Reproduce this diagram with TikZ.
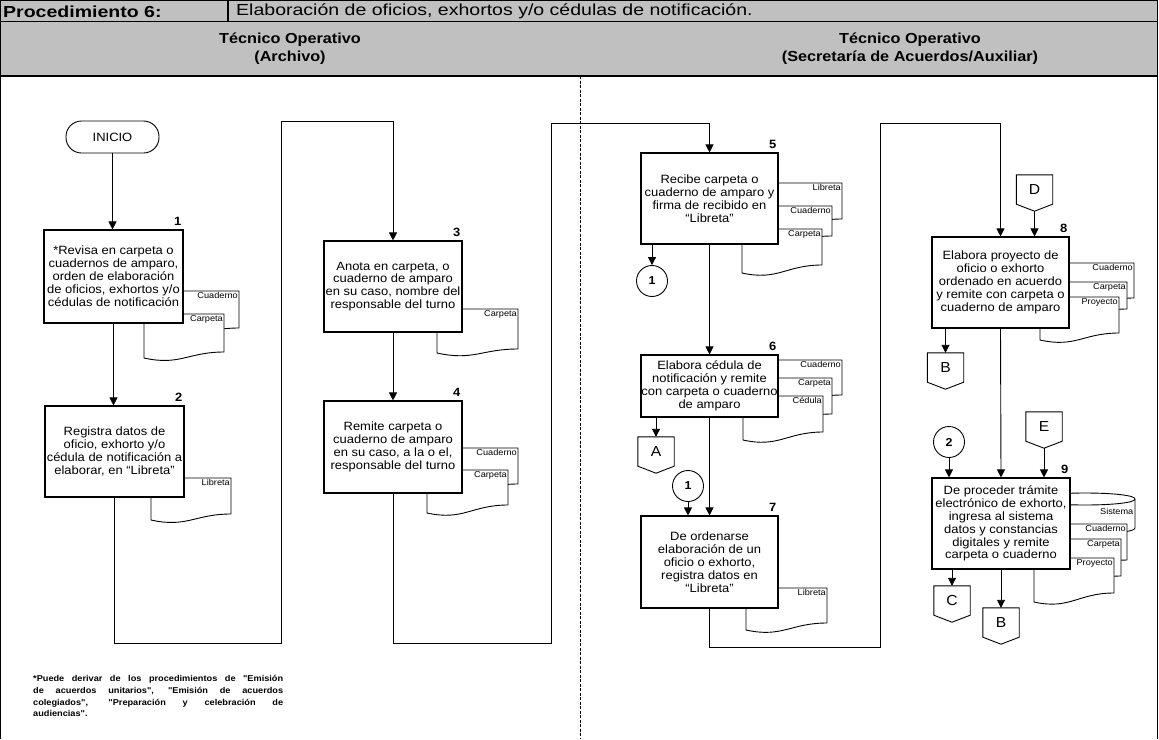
\documentclass[tikz,border=0pt]{standalone}
\usepackage{fontspec}
\setmainfont{Liberation Sans}[FakeStretch=1.08]
\newfontfamily\titlefont{Liberation Sans}[FakeStretch=1.22]
\newfontfamily\lanefont{Liberation Sans}[FakeStretch=1.12]
\newfontfamily\notefont{Liberation Sans}[FakeStretch=1.08]
\usetikzlibrary{arrows.meta}
\definecolor{headgray}{RGB}{192,192,192}

% document symbol: left, top, right, bottom at right edge, bottom at left edge, label
\newcommand\docpage[6]{%
  \draw[docline] (#1,#2) -- (#3,#2) -- (#3,#4)
    .. controls ({#3-0.45*(#3-#1)},#4) and ({#1+0.45*(#3-#1)},{#5+8}) .. (#1,#5) -- cycle;
  \node[doclabel, anchor=north east] at ({#3-0.5},{#2+1}) {#6};
}
% off-page connector: name, centre x, top y, letter
\newcommand\offpage[4]{%
  \node[offp] (#1) at (#2,{#3+14.5}) {#4};
  \draw[conn] (#1.north west) -- (#1.north east) -- (#1.south east)
    -- ([yshift=-7pt]#1.south) -- (#1.south west) -- cycle;
  \coordinate (#1-tip) at ([yshift=-7pt]#1.south);
}

\tikzset{
  conn/.style={line width=0.9pt},
  arr/.style={conn, -{Triangle[length=8pt,width=8pt]}},
  proc/.style={draw, fill=white, line width=1.1pt, align=center, inner sep=0pt,
    font=\fontsize{12}{12.9}\selectfont},
  docline/.style={draw, fill=white, line width=0.9pt},
  doclabel/.style={inner sep=0.5pt, font=\fontsize{8.5}{9}\selectfont},
  num/.style={inner sep=0pt, font=\bfseries\fontsize{12}{12}\selectfont},
  offp/.style={minimum width=36pt, minimum height=29pt, inner sep=0pt,
    font=\fontsize{14.5}{16}\selectfont},
  link/.style={draw, circle, fill=white, line width=0.9pt, minimum size=31pt, inner sep=0pt,
    font=\bfseries\fontsize{11.5}{12}\selectfont},
  term/.style={draw, fill=white, line width=0.9pt, rounded corners=15.5pt,
    minimum width=93pt, minimum height=32pt, font=\fontsize{12}{12.9}\selectfont},
  frame/.style={line width=1.2pt},
  head/.style={inner sep=0pt, align=center, font=\lanefont\bfseries\fontsize{14.5}{17.5}\selectfont},
}

\begin{document}
\begin{tikzpicture}[x=1pt, y=-1pt]
\useasboundingbox (0,0) rectangle (1159,739);

% ---- header table ----
\fill[headgray] (0.6,0.6) rectangle (1157.6,76);
\draw[frame] (0.6,0.6) -- (1157.6,0.6);
\draw[frame] (0.6,21.5) -- (1157.6,21.5);
\draw[frame] (0.6,76) -- (1157.6,76);
\draw[frame] (228,0.6) -- (228,21.5);
\draw[frame] (0.6,0) -- (0.6,739);
\draw[frame] (1157.6,0) -- (1157.6,739);
\node[anchor=west, inner sep=0pt, font=\titlefont\bfseries\fontsize{16}{17}\selectfont] (proc) at (3,11.5) {Procedimiento 6:};
\node[anchor=west, inner sep=0pt, font=\titlefont\fontsize{16}{17}\selectfont] (title) at (236,11.5)
  {Elaboración de oficios, exhortos y/o cédulas de notificación.};
\node[head] (laneA) at (290,48.5) {Técnico Operativo\\(Archivo)};
\node[head] (laneB) at (910,48.5) {Técnico Operativo\\(Secretaría de Acuerdos/Auxiliar)};

% lane divider
\draw[line width=0.8pt, dash pattern=on 3pt off 1.5pt] (580,76) -- (580,739);

% ---- documents behind the activities ----
\docpage{154}{291}{239}{328}{334}{Cuaderno}
\docpage{144}{314}{224}{352}{358}{Carpeta}
\docpage{151}{478}{231}{514}{520}{Libreta}
\docpage{437}{309}{518}{349}{353}{Carpeta}
\docpage{437}{448}{518}{484}{490}{Cuaderno}
\docpage{427}{470}{508}{505}{513}{Carpeta}
\docpage{762}{183}{842}{219}{225}{Libreta}
\docpage{752}{206}{832}{236}{242}{Cuaderno}
\docpage{742}{229}{822}{265}{273}{Carpeta}
\docpage{762}{360}{842}{395}{401}{Cuaderno}
\docpage{752}{378}{832}{414}{420}{Carpeta}
\docpage{743}{396}{823}{432}{440}{Cédula}
\docpage{746}{588}{827}{623}{630}{Libreta}
\docpage{1060}{263}{1134}{298}{304}{Cuaderno}
\docpage{1050}{282}{1127}{309}{316}{Carpeta}
\docpage{1040}{297}{1119}{333}{340}{Proyecto}
% stored data (Sistema)
\draw[docline] (1035,499) .. controls (1035,491) and (1135,491) .. (1135,499) -- (1135,528)
  .. controls (1135,536) and (1035,536) .. (1035,528) -- cycle;
\draw[conn] (1035,499) .. controls (1035,507) and (1135,507) .. (1135,499);
\node[doclabel, anchor=north east] at (1134,508) {Sistema};
\docpage{1060}{524}{1127}{560}{566}{Cuaderno}
\docpage{1050}{539}{1121}{576}{582}{Carpeta}
\docpage{1034}{558}{1114}{593}{602}{Proyecto}

% ---- activities ----
\node[term] (ini) at (112.5,137) {INICIO};
\node[proc, minimum width=139pt, minimum height=93pt] (b1) at (113.5,276.5)
  {*Revisa en carpeta o\\cuadernos de amparo,\\orden de elaboración\\de oficios, exhortos y/o\\cédulas de notificación};
\node[proc, minimum width=139pt, minimum height=91pt] (b2) at (114.5,451.5)
  {Registra datos de\\oficio, exhorto y/o\\cédula de notificación a\\elaborar, en “Libreta”};
\node[proc, minimum width=138pt, minimum height=91pt] (b3) at (393,286.5)
  {Anota en carpeta, o\\cuaderno de amparo\\en su caso, nombre del\\responsable del turno};
\node[proc, minimum width=138pt, minimum height=92pt] (b4) at (393,447)
  {Remite carpeta o\\cuaderno de amparo\\en su caso, a la o el,\\responsable del turno};
\node[proc, minimum width=137pt, minimum height=91pt] (b5) at (709.5,198.5)
  {Recibe carpeta o\\cuaderno de amparo y\\firma de recibido en\\“Libreta”};
\node[proc, minimum width=137pt, minimum height=62pt] (b6) at (709.5,386)
  {Elabora cédula de\\notificación y remite\\con carpeta o cuaderno\\de amparo};
\node[proc, minimum width=137pt, minimum height=92pt] (b7) at (709.5,562)
  {De ordenarse\\elaboración de un\\oficio o exhorto,\\registra datos en\\“Libreta”};
\node[proc, minimum width=137pt, minimum height=91pt] (b8) at (1000.5,282.5)
  {Elabora proyecto de\\oficio o exhorto\\ordenado en acuerdo\\y remite con carpeta o\\cuaderno de amparo};
\node[proc, minimum width=138pt, minimum height=91pt] (b9) at (1001,523.5)
  {De proceder trámite\\electrónico de exhorto,\\ingresa al sistema\\datos y constancias\\digitales y remite\\carpeta o cuaderno};

% step numbers
\foreach \b/\n in {b1/1,b2/2,b3/3,b4/4,b5/5,b6/6,b7/7,b8/8,b9/9}
  \node[num, anchor=south east] (n\n) at ([xshift=-2pt,yshift=4pt]\b.north east) {\n};

% connectors on page and off page
\node[link] (c1) at (652,281) {1};
\node[link] (c1b) at (688,486) {1};
\node[link] (c2) at (949,442) {2};
\offpage{A}{656}{437}{A}
\offpage{D}{1034.5}{175}{D}
\offpage{E}{1044}{412}{E}
\offpage{B1}{945.5}{353}{B}
\offpage{C}{952}{586}{C}
\offpage{B2}{1001}{608}{B}

% turning points of the long connectors
\coordinate (lowA) at (281,643);
\coordinate (topA) at (281,121);
\coordinate (lowB) at (551,643);
\coordinate (topB) at (551,123);
\coordinate (lowC) at (880,647);
\coordinate (topC) at (880,123);

% ---- flow ----
\draw[arr] (ini.south) -- (ini.south |- b1.north);
\draw[arr] (b1.south) -- (b1.south |- b2.north);
\draw[arr] (b2.south) |- (lowA) -- (topA) -| (b3.north);
\draw[arr] (b3.south) -- (b4.north);
\draw[arr] (b4.south) |- (lowB) -- (topB) -| (b5.north);
\draw[arr] (b5.south -| c1) -- (c1.north);
\draw[arr] (b5.south) -- (b6.north);
\draw[arr] (b6.south -| A) -- (A.north);
\draw[arr] (b6.south) -- (b7.north);
\draw[arr] (c1b.south) -- (c1b.south |- b7.north);
\draw[arr] (b7.south) |- (lowC) -- (topC) -| (b8.north);
\draw[arr] (D-tip) -- (D-tip |- b8.north);
\draw[arr] (b8.south -| B1) -- (B1.north);
\draw[arr] (b8.south) -- (b9.north);
\draw[arr] (c2.south) -- (c2.south |- b9.north);
\draw[arr] (E-tip) -- (E-tip |- b9.north);
\draw[arr] (b9.south -| C) -- (C.north);
\draw[arr] (b9.south -| B2) -- (B2.north);

% footnote
\node[anchor=north west, inner sep=0pt, text width=250pt, align=justify,
  font=\notefont\bfseries\fontsize{8.5}{11.8}\selectfont] (note) at (33,675)
  {*Puede derivar de los procedimientos de "Emisión\linebreak de acuerdos unitarios", "Emisión de acuerdos\linebreak colegiados", "Preparación y celebración de\linebreak audiencias".};
\end{tikzpicture}
\end{document}
